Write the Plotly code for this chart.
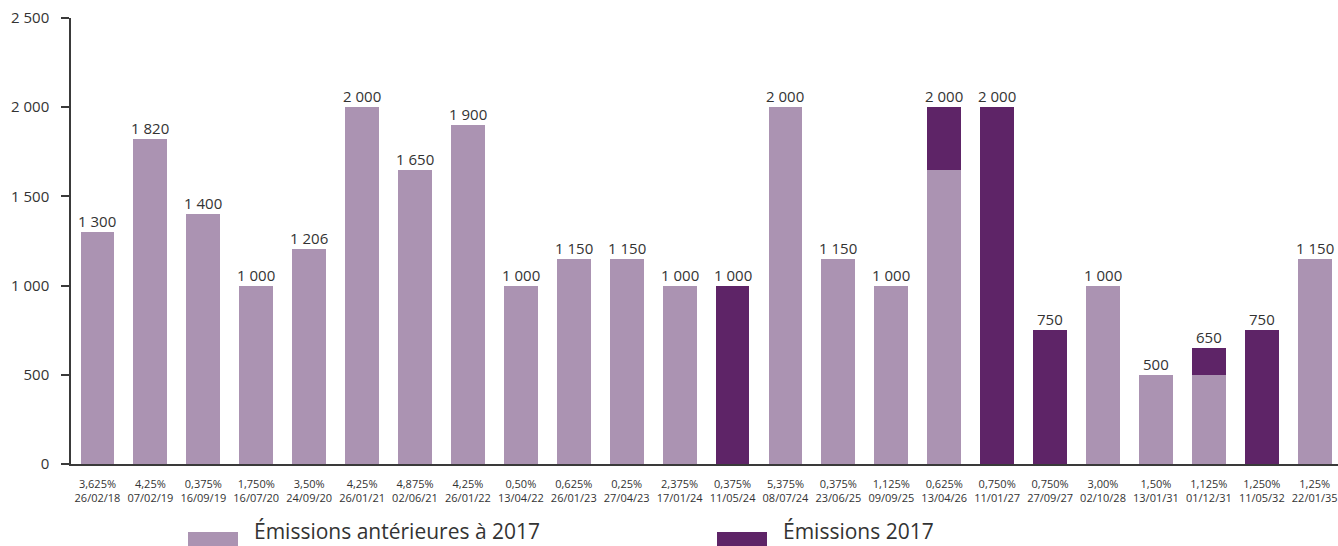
import plotly.graph_objects as go

# Bond issues: coupon and maturity date, amounts in millions of euros
coupons = ["3,625%", "4,25%", "0,375%", "1,750%", "3,50%", "4,25%", "4,875%", "4,25%",
           "0,50%", "0,625%", "0,25%", "2,375%", "0,375%", "5,375%", "0,375%", "1,125%",
           "0,625%", "0,750%", "0,750%", "3,00%", "1,50%", "1,125%", "1,250%", "1,25%"]
maturities = ["26/02/18", "07/02/19", "16/09/19", "16/07/20", "24/09/20", "26/01/21", "02/06/21",
              "26/01/22", "13/04/22", "26/01/23", "27/04/23", "17/01/24", "11/05/24", "08/07/24",
              "23/06/25", "09/09/25", "13/04/26", "11/01/27", "27/09/27", "02/10/28", "13/01/31",
              "01/12/31", "11/05/32", "22/01/35"]
before_2017 = [1300, 1820, 1400, 1000, 1206, 2000, 1650, 1900, 1000, 1150, 1150, 1000,
               0, 2000, 1150, 1000, 1650, 0, 0, 1000, 500, 500, 0, 1150]
issued_2017 = [0, 0, 0, 0, 0, 0, 0, 0, 0, 0, 0, 0,
               1000, 0, 0, 0, 350, 2000, 750, 0, 0, 150, 750, 0]
y_ticks = [0, 500, 1000, 1500, 2000, 2500]

LIGHT = "#ab93b2"
DARK = "#5e2467"
TEXT = "#333333"
FONT = "Open Sans"

categories = [f"{c}<br>{d}" for c, d in zip(coupons, maturities)]
totals = [a + b for a, b in zip(before_2017, issued_2017)]


def fmt(v):
    return f"{v:,}".replace(",", " ")


fig = go.Figure()
fig.add_bar(x=categories, y=before_2017, marker_color=LIGHT, marker_line_width=0,
            name="Émissions antérieures à 2017")
fig.add_bar(x=categories, y=issued_2017, marker_color=DARK, marker_line_width=0,
            name="Émissions 2017")

for cat, tot in zip(categories, totals):
    fig.add_annotation(x=cat, y=tot, text=fmt(tot), showarrow=False,
                       yanchor="bottom", yshift=-1,
                       font=dict(family=FONT, size=15, color=TEXT))

# Plot area geometry in pixels (used for the hand-drawn legend)
W, H = 1338, 546
L, R, T, B = 71, 0, 18, 82
pw, ph = W - L - R, H - T - B


def px_x(x):
    return (x - L) / pw


def px_y(y):
    return (H - B - y) / ph


legend_items = [("Émissions antérieures à 2017", LIGHT, 188),
                ("Émissions 2017", DARK, 717)]
for label, color, x0 in legend_items:
    fig.add_shape(type="rect", xref="paper", yref="paper",
                  x0=px_x(x0), x1=px_x(x0 + 50), y0=px_y(547), y1=px_y(532),
                  fillcolor=color, line_width=0)
    fig.add_annotation(xref="paper", yref="paper", x=px_x(x0 + 64), y=px_y(531),
                       text=label, showarrow=False, xanchor="left", yanchor="middle",
                       font=dict(family=FONT, size=21, color=TEXT))

fig.update_layout(
    barmode="stack",
    bargap=0.36,
    width=W, height=H,
    margin=dict(l=L, r=R, t=T, b=B, pad=0),
    plot_bgcolor="white", paper_bgcolor="white",
    showlegend=False,
    font=dict(family=FONT, color=TEXT),
)
fig.update_xaxes(
    range=[-0.5, 23.44],
    showline=True, linecolor="#3a3a3a", linewidth=1.5,
    ticks="", tickfont=dict(size=11, color=TEXT), showgrid=False,
    ticklabelstandoff=9,
)
fig.update_yaxes(
    range=[0, 2500],
    tickvals=y_ticks, ticktext=[fmt(v) for v in y_ticks],
    showline=True, linecolor="#3a3a3a", linewidth=1.5,
    ticks="outside", ticklen=8, tickcolor="#3a3a3a", tickwidth=1.5,
    ticklabelstandoff=9,
    tickfont=dict(size=15, color=TEXT), showgrid=False, zeroline=False,
)

fig.write_html("out.html")
